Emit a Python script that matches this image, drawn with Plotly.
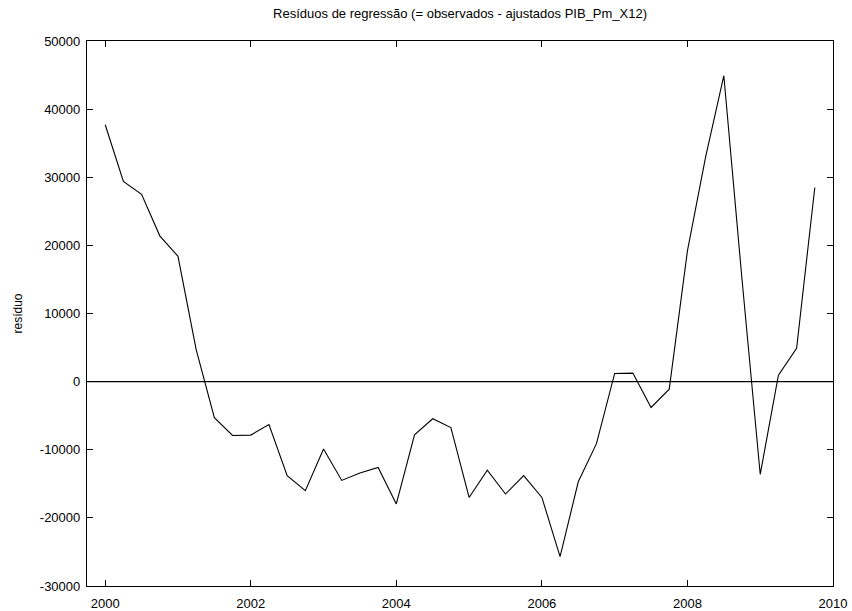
import numpy as np
import plotly.graph_objects as go

# Quarterly periods 2000Q1 .. 2009Q4
years = [2000 + q * 0.25 for q in range(40)]

residuals = [
    37700, 29400, 27500, 21400, 18400, 4700, -5300, -7900,
    -7850, -6300, -13800, -16000, -9900, -14500, -13400, -12600,
    -17950, -7800, -5450, -6750, -17000, -13000, -16500, -13800,
    -17000, -25700, -14700, -9100, 1200, 1250, -3800, -1100,
    19200, 33000, 44900, 15000, -13600, 950, 4900, 28500,
]

x_ticks = [2000, 2002, 2004, 2006, 2008, 2010]
y_ticks = [-30000, -20000, -10000, 0, 10000, 20000, 30000, 40000, 50000]

FONT = "Liberation Sans, Arial, sans-serif"

fig = go.Figure()
fig.add_trace(go.Scatter(
    x=years, y=residuals, mode="lines",
    line=dict(color="black", width=1.1),
    showlegend=False, hoverinfo="x+y",
))

# zero reference line
fig.add_shape(type="line", xref="x", yref="y", x0=1999.75, x1=2010, y0=0, y1=0,
              line=dict(color="black", width=1.1))

axis_common = dict(
    showgrid=False, zeroline=False, showline=True, linecolor="black",
    linewidth=1.2, mirror="ticks", ticks="inside", ticklen=6,
    tickcolor="black", tickwidth=1, automargin=False,
    tickfont=dict(family=FONT, size=13, color="black"),
)

fig.update_xaxes(range=[1999.75, 2010], tickvals=x_ticks,
                 ticktext=[str(t) for t in x_ticks], ticklabelstandoff=5,
                 **axis_common)
fig.update_yaxes(range=[-30000, 50000], tickvals=y_ticks,
                 ticktext=[str(t) for t in y_ticks], ticklabelstandoff=3,
                 title=dict(text="resíduo", font=dict(family=FONT, size=12, color="black"),
                            standoff=14),
                 **axis_common)

fig.update_layout(
    width=852, height=611,
    margin=dict(l=87, r=19, t=41, b=25),
    paper_bgcolor="white", plot_bgcolor="white",
    title=dict(text="Resíduos de regressão (= observados - ajustados PIB_Pm_X12)",
               x=0.54, xanchor="center", y=0.985, yanchor="top",
               font=dict(family=FONT, size=13, color="black")),
)

fig.write_html("out.html")
